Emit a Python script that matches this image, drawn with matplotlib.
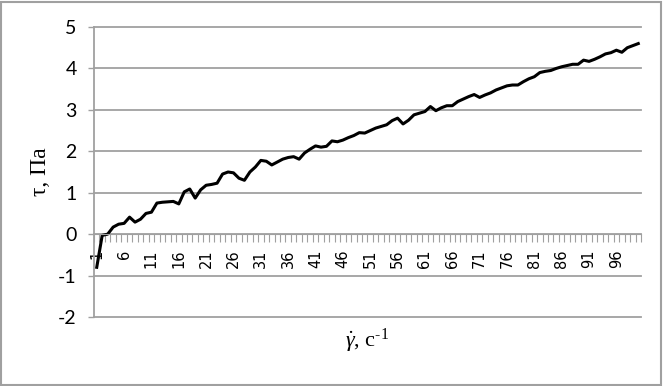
import numpy as np
import matplotlib.pyplot as plt
from matplotlib.patches import Rectangle

plt.rcParams['mathtext.fontset'] = 'custom'
plt.rcParams['mathtext.rm'] = 'Liberation Serif'
plt.rcParams['mathtext.it'] = 'Liberation Serif:italic'

# shear rate categories 1..100 and shear stress, Pa
categories = list(range(1, 101))
tau = [-0.80, -0.03, 0.00, 0.17, 0.24, 0.26, 0.41, 0.29, 0.36, 0.50,
       0.53, 0.75, 0.77, 0.78, 0.79, 0.73, 1.02, 1.09, 0.87, 1.07,
       1.18, 1.20, 1.23, 1.45, 1.50, 1.48, 1.35, 1.30, 1.50, 1.62,
       1.78, 1.76, 1.67, 1.74, 1.81, 1.85, 1.87, 1.81, 1.96, 2.05,
       2.13, 2.10, 2.12, 2.25, 2.23, 2.27, 2.33, 2.38, 2.45, 2.44,
       2.50, 2.56, 2.60, 2.64, 2.74, 2.80, 2.66, 2.75, 2.88, 2.92,
       2.96, 3.08, 2.98, 3.05, 3.10, 3.10, 3.20, 3.26, 3.32, 3.37,
       3.30, 3.36, 3.41, 3.48, 3.53, 3.58, 3.60, 3.60, 3.68, 3.75,
       3.80, 3.90, 3.93, 3.95, 4.00, 4.04, 4.07, 4.10, 4.10, 4.20,
       4.17, 4.22, 4.28, 4.35, 4.38, 4.44, 4.39, 4.50, 4.55, 4.60]
y_ticks = [-2, -1, 0, 1, 2, 3, 4, 5]
label_every = 5

grey = '#a0a0a0'

fig = plt.figure(figsize=(6.63, 3.86), dpi=100)
ax = fig.add_axes([94 / 663, 1 - 317 / 386, (641 - 94) / 663, (317 - 27) / 386])

ax.plot(categories, tau, color='black', lw=2.2, solid_joinstyle='round')

ax.set_xlim(0.5, len(categories) + 0.5)
ax.set_ylim(-2, 5)

# y axis
ax.set_yticks(y_ticks)
ax.set_yticklabels([str(v) for v in y_ticks], fontfamily='Lato', fontsize=14)
ax.tick_params(axis='y', direction='out', length=4.5, width=1, color=grey, pad=8)
for v in y_ticks:
    ax.axhline(v, color=grey, lw=1.3, zorder=0, clip_on=False)

# category axis crossing at zero
ax.spines['bottom'].set_position(('data', 0))
ax.spines['bottom'].set_color(grey)
ax.spines['left'].set_color(grey)
ax.spines['left'].set_linewidth(1.3)
ax.spines['top'].set_visible(False)
ax.spines['right'].set_visible(False)

ax.set_xticks(np.arange(0.5, len(categories) + 1, 1))
ax.set_xticklabels([])
ax.tick_params(axis='x', which='major', direction='out', length=6, width=0.8, color=grey)
ax.set_xticks(categories[::label_every], minor=True)
ax.set_xticklabels([str(c) for c in categories[::label_every]], minor=True,
                   rotation=90, fontfamily='DejaVu Sans', fontsize=10.5)
ax.tick_params(axis='x', which='minor', length=0, pad=11)

fig.text(40 / 663, 1 - 172 / 386, 'τ, Па', rotation=90, ha='center', va='center',
         fontfamily='Liberation Serif', fontsize=17)
fig.text(367 / 663, 1 - 341 / 386, r'$\dot{\gamma}$, с$^{\text{-1}}$',
         ha='center', va='center', fontfamily='Liberation Serif', fontsize=16)

fig.patches.append(Rectangle((1 / 663, 1 / 386), 660 / 663, 383 / 386,
                             transform=fig.transFigure, fill=False,
                             edgecolor=grey, lw=1.5))

plt.savefig('out.png', dpi=100)
